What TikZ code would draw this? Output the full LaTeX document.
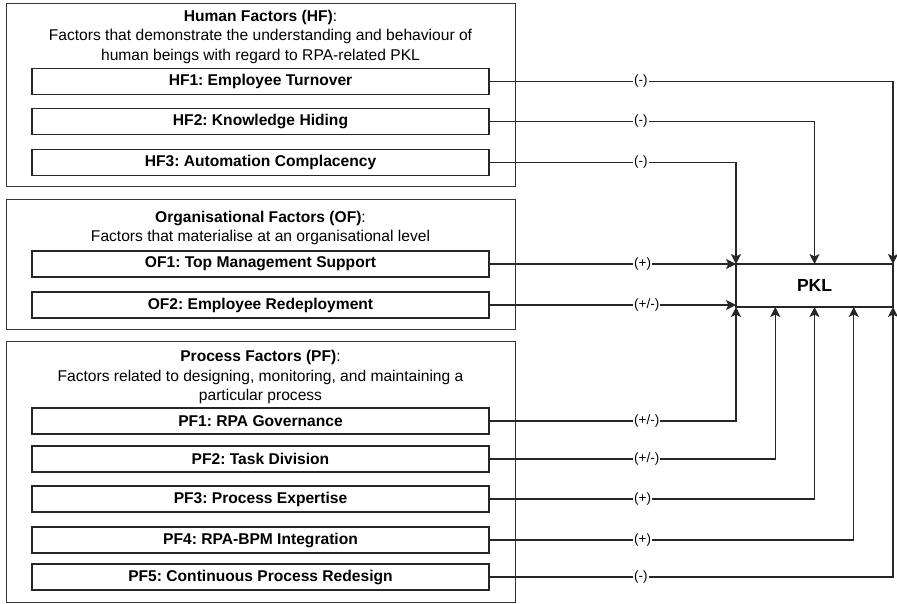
\documentclass[tikz,border=0pt]{standalone}
\usepackage{fontspec}
\setmainfont{Liberation Sans}
\usetikzlibrary{arrows.meta,calc}
\frenchspacing
\begin{document}
\frenchspacing
\begin{tikzpicture}[x=1pt,y=-1pt,
 grp/.style={draw=black!80, line width=1.2pt, inner sep=0pt, anchor=north west},
 fbox/.style={draw=black!85, line width=1.2pt, minimum width=457pt, minimum height=26pt, inner sep=0pt, font=\frenchspacing\bfseries\fontsize{15.6pt}{18pt}\selectfont},
 ttl/.style={align=center, inner sep=0pt, anchor=north, font=\frenchspacing\fontsize{15.6pt}{19.5pt}\selectfont},
 pkl/.style={draw=black!85, line width=1.2pt, minimum width=157pt, minimum height=43pt, inner sep=0pt, outer sep=0pt, font=\bfseries\fontsize{17.5pt}{20pt}\selectfont},
 conn/.style={draw=black!85, line width=1.2pt},
 arr/.style={conn, -{Stealth[length=10pt,width=10pt,inset=2.5pt]}},
 lbl/.style={fill=white, inner xsep=1pt, inner ysep=1pt, anchor=west, font=\fontsize{13.5pt}{16pt}\selectfont}]
\useasboundingbox (0,0) rectangle (897,603);

% group frames
\node[grp, minimum width=509pt, minimum height=183pt] (HFg) at (6,3) {};
\node[grp, minimum width=509pt, minimum height=130pt] (OFg) at (6,199) {};
\node[grp, minimum width=509pt, minimum height=261pt] (PFg) at (6,341) {};

% titles
\node[ttl] (HFt) at (260.5,9.5) {\textbf{Human Factors (HF)}:\\Factors that demonstrate the understanding and behaviour of\\human beings with regard to RPA-related PKL};
\node[ttl] (OFt) at (260.5,210.5) {\textbf{Organisational Factors (OF)}:\\Factors that materialise at an organisational level};
\node[ttl] (PFt) at (260.5,350.3) {\textbf{Process Factors (PF)}:\\Factors related to designing, monitoring, and maintaining a\\particular process};

% factor boxes
\node[fbox] (HF1) at (260.5,81.5) {HF1: Employee Turnover};
\node[fbox] (HF2) at (260.5,121.5) {HF2: Knowledge Hiding};
\node[fbox] (HF3) at (260.5,162.5) {HF3: Automation Complacency};
\node[fbox] (OF1) at (260.5,264) {OF1: Top Management Support};
\node[fbox] (OF2) at (260.5,305) {OF2: Employee Redeployment};
\node[fbox] (PF1) at (260.5,421) {PF1: RPA Governance};
\node[fbox] (PF2) at (260.5,459) {PF2: Task Division};
\node[fbox] (PF3) at (260.5,499) {PF3: Process Expertise};
\node[fbox] (PF4) at (260.5,540) {PF4: RPA-BPM Integration};
\node[fbox] (PF5) at (260.5,577) {PF5: Continuous Process Redesign};

% target
\node[pkl] (PKL) at (814.5,285.5) {PKL};
\coordinate (b2) at ($(PKL.south west)!0.25!(PKL.south east)$);
\coordinate (b4) at ($(PKL.south west)!0.75!(PKL.south east)$);
\coordinate (lx) at (633,0);

% connectors
\draw[arr] (HF1.east) -| (PKL.north east);
\draw[arr] (HF2.east) -| (PKL.north);
\draw[arr] (HF3.east) -| (PKL.north west);
\draw[arr] (OF1.east) -- (OF1.east -| PKL.west);
\draw[arr] (OF2.east) -- (OF2.east -| PKL.west);
\draw[arr] (PF1.east) -| (PKL.south west);
\draw[arr] (PF2.east) -| (b2);
\draw[arr] (PF3.east) -| (PKL.south);
\draw[arr] (PF4.east) -| (b4);
\draw[arr] (PF5.east) -| (PKL.south east);

% labels
\node[lbl] (l1) at (HF1.east -| lx) {(-)};
\node[lbl] (l2) at (HF2.east -| lx) {(-)};
\node[lbl] (l3) at (HF3.east -| lx) {(-)};
\node[lbl] (l4) at (OF1.east -| lx) {(+)};
\node[lbl] (l5) at (OF2.east -| lx) {(+/-)};
\node[lbl] (l6) at (PF1.east -| lx) {(+/-)};
\node[lbl] (l7) at (PF2.east -| lx) {(+/-)};
\node[lbl] (l8) at (PF3.east -| lx) {(+)};
\node[lbl] (l9) at (PF4.east -| lx) {(+)};
\node[lbl] (l10) at (PF5.east -| lx) {(-)};
\end{tikzpicture}
\end{document}
